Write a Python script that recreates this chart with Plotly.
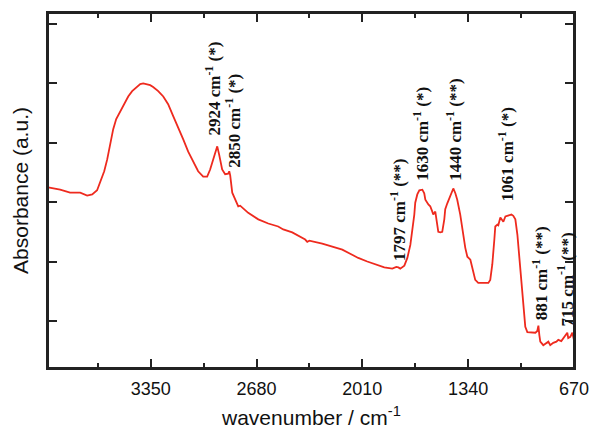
import plotly.graph_objects as go

# Spectrum (wavenumber in cm^-1, absorbance a.u.)
wavenumber = [
    4000, 3924, 3861, 3797, 3753, 3721, 3690, 3671, 3645, 3626, 3607, 3588, 3569,
    3544, 3518, 3493, 3468, 3436, 3417, 3398, 3373, 3354, 3335, 3303, 3271, 3240,
    3208, 3176, 3145, 3113, 3081, 3050, 3018, 2993, 2974, 2955, 2929, 2917, 2898,
    2879, 2860, 2853, 2847, 2834, 2815, 2796, 2784, 2733, 2669, 2606, 2543, 2511,
    2454, 2403, 2372, 2359, 2346, 2264, 2201, 2137, 2087, 2036, 1979, 1928, 1871,
    1820, 1795, 1782, 1770, 1744, 1725, 1706, 1694, 1681, 1675, 1662, 1649, 1630,
    1618, 1611, 1592, 1580, 1567, 1561, 1548, 1536, 1529, 1516, 1504, 1491, 1485,
    1472, 1459, 1447, 1434, 1421, 1409, 1390, 1377, 1358, 1345, 1326, 1314, 1295,
    1276, 1244, 1212, 1200, 1187, 1174, 1168, 1155, 1149, 1136, 1124, 1117, 1104,
    1086, 1066, 1054, 1041, 1028, 1016, 1010, 997, 984, 978, 965, 940, 914, 902,
    895, 889, 883, 864, 845, 832, 820, 801, 781, 769, 750, 737, 724, 712, 706, 693,
    680, 670,
]
absorbance = [
    0.325, 0.321, 0.316, 0.316, 0.311, 0.313, 0.320, 0.333, 0.352, 0.372, 0.397,
    0.423, 0.440, 0.453, 0.467, 0.478, 0.487, 0.494, 0.499, 0.500, 0.499, 0.497,
    0.494, 0.487, 0.478, 0.465, 0.445, 0.426, 0.406, 0.385, 0.367, 0.352, 0.343,
    0.343, 0.355, 0.372, 0.394, 0.380, 0.355, 0.347, 0.348, 0.352, 0.345, 0.316,
    0.304, 0.293, 0.294, 0.282, 0.271, 0.264, 0.259, 0.254, 0.249, 0.242, 0.237,
    0.233, 0.235, 0.230, 0.225, 0.220, 0.213, 0.206, 0.200, 0.195, 0.190, 0.188,
    0.191, 0.190, 0.188, 0.193, 0.206, 0.228, 0.249, 0.279, 0.299, 0.313, 0.320,
    0.321, 0.315, 0.304, 0.296, 0.293, 0.284, 0.279, 0.284, 0.262, 0.250, 0.249,
    0.250, 0.271, 0.288, 0.298, 0.306, 0.316, 0.323, 0.315, 0.304, 0.279, 0.254,
    0.223, 0.208, 0.203, 0.190, 0.169, 0.164, 0.164, 0.164, 0.169, 0.195, 0.237,
    0.259, 0.262, 0.261, 0.274, 0.269, 0.267, 0.276, 0.277, 0.279, 0.277, 0.271,
    0.245, 0.206, 0.186, 0.144, 0.110, 0.090, 0.081, 0.080, 0.080, 0.083, 0.092,
    0.076, 0.065, 0.059, 0.063, 0.065, 0.059, 0.063, 0.065, 0.068, 0.066, 0.071,
    0.075, 0.080, 0.071, 0.073, 0.080, 0.068,
]

# Peak labels: text, anchor wavenumber and anchor absorbance (bottom of label)
peak_labels = [
    "2924 cm<sup>-1</sup> (*)", "2850 cm<sup>-1</sup> (*)",
    "1797 cm<sup>-1</sup> (**)", "1630 cm<sup>-1</sup> (*)",
    "1440 cm<sup>-1</sup> (**)", "1061 cm<sup>-1</sup> (*)",
    "881 cm<sup>-1</sup> (**)", "715 cm<sup>-1</sup> (**)",
]
peak_x = [2955, 2828, 1789, 1643, 1434, 1104, 883, 724]
peak_y = [0.409, 0.355, 0.198, 0.333, 0.333, 0.299, 0.098, 0.088]

x_tick_vals = [3350, 2680, 2010, 1340, 670]
x_tick_text = ["3350", "2680", "2010", "1340", "670"]
x_minor_vals = [3685, 3015, 2345, 1675, 1005]

x_range = [4001, 669.5]
y_range = [0.0206, 0.6186]

fig = go.Figure()

# plot frame drawn from the axis ranges
fig.add_trace(go.Scatter(
    x=[x_range[0], x_range[1], x_range[1], x_range[0], x_range[0]],
    y=[y_range[0], y_range[0], y_range[1], y_range[1], y_range[0]],
    mode="lines", line=dict(color="#222", width=2), cliponaxis=False,
    hoverinfo="skip", showlegend=False,
))

fig.add_trace(go.Scatter(
    x=wavenumber, y=absorbance, mode="lines",
    line=dict(color="#ee2a1e", width=1.8), showlegend=False,
))

for t, xv, yv in zip(peak_labels, peak_x, peak_y):
    fig.add_annotation(
        x=xv, y=yv, xref="x", yref="y", text="<b>" + t + "</b>",
        textangle=-90, showarrow=False, xanchor="center", yanchor="bottom",
        font=dict(family="Liberation Serif, Times New Roman, serif", size=17, color="#111"),
    )

# x axis title placed below the tick labels
fig.add_annotation(
    x=0.5, y=-0.094, xref="paper", yref="paper", xanchor="center", yanchor="top",
    text="wavenumber / cm<sup>-1</sup>", showarrow=False,
    font=dict(family="Liberation Sans, Arial, sans-serif", size=21, color="#111"),
)

fig.add_shape(type="rect", xref="paper", yref="paper", x0=0, x1=1, y0=0, y1=1,
              line=dict(color="#222", width=2), fillcolor="rgba(0,0,0,0)", layer="above")

axis_common = dict(
    showgrid=False, zeroline=False, showline=True, linecolor="#222",
    linewidth=2, mirror="allticks", ticks="inside", tickcolor="#222",
    tickwidth=1.5, automargin=False,
)

fig.update_xaxes(
    range=x_range, tickvals=x_tick_vals, ticktext=x_tick_text, ticklen=9,
    minor=dict(tickvals=x_minor_vals, ticklen=5, ticks="inside",
               tickcolor="#222", tickwidth=1.5),
    ticklabelstandoff=3,
    tickfont=dict(family="Liberation Sans, Arial, sans-serif", size=18, color="#111"),
    **axis_common,
)
fig.update_yaxes(
    range=y_range, tick0=0, dtick=0.1, ticklen=9, showticklabels=False,
    title=dict(text="Absorbance (a.u.)", standoff=12,
               font=dict(family="Liberation Sans, Arial, sans-serif", size=21, color="#111")),
    **axis_common,
)

fig.update_layout(
    width=589, height=426,
    margin=dict(l=48, r=15, t=13, b=58),
    paper_bgcolor="white", plot_bgcolor="white",
)

fig.write_html(
    "out.html",
    config={"displayModeBar": False},
    post_script="document.body.style.margin='0px';document.body.style.overflow='hidden';",
)
